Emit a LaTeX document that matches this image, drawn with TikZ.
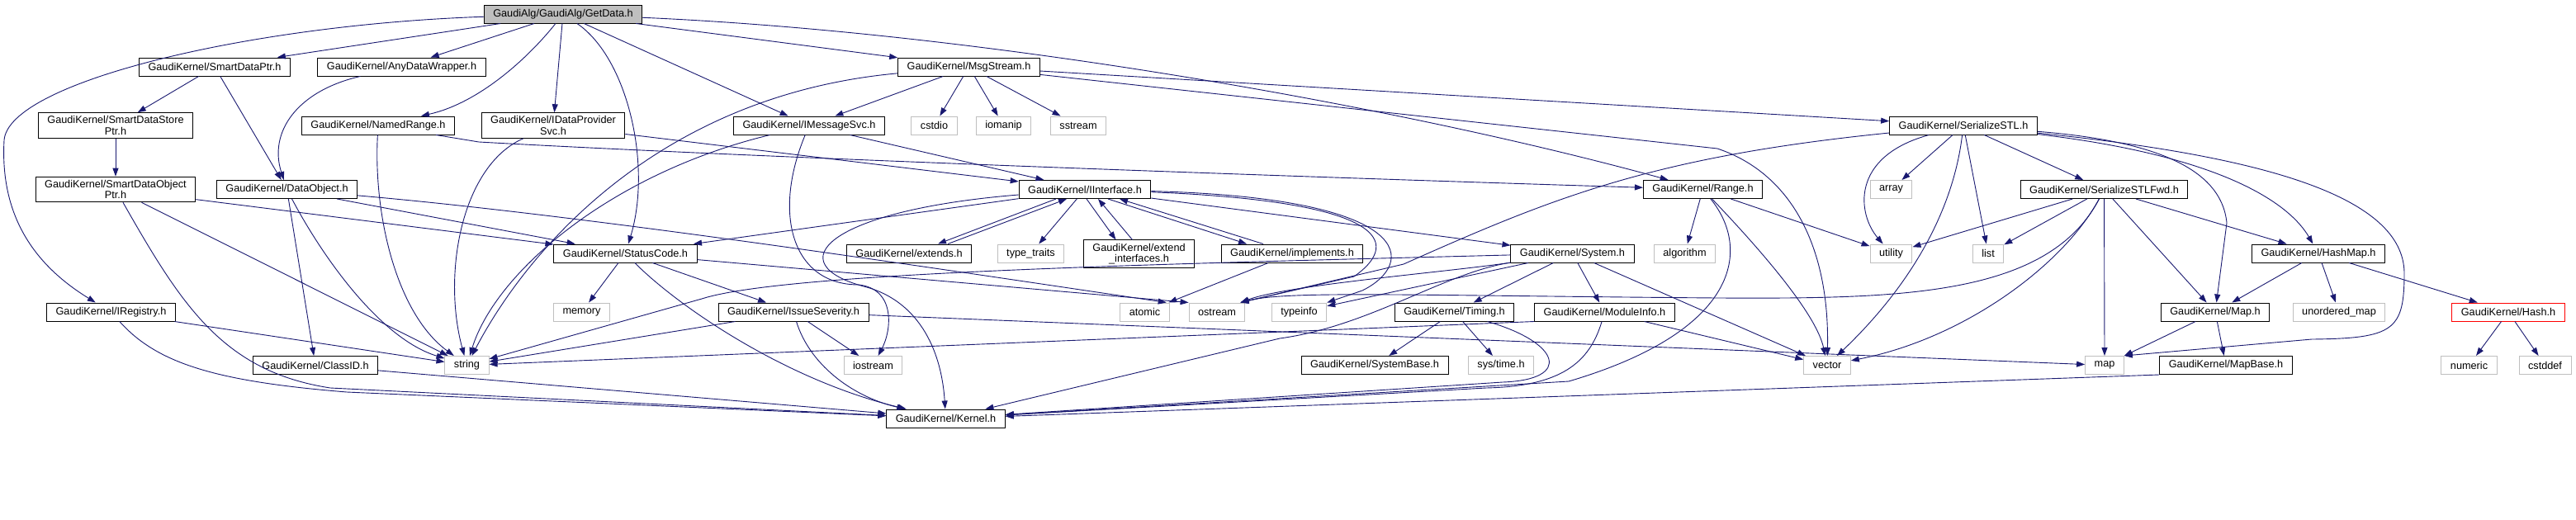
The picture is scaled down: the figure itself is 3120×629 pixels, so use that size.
\documentclass[tikz,border=0pt]{standalone}
\usepackage{fontspec}
\setmainfont{Liberation Sans}
\usepackage{xcolor}
\usepackage{tikz}
\usetikzlibrary{arrows.meta}
\definecolor{edgeblue}{HTML}{191970}
\definecolor{sysgray}{HTML}{BFBFBF}
\tikzset{hdr/.style={draw=black, line width=1pt, font=\fontsize{12.7}{13.3}\selectfont, inner xsep=11pt, inner ysep=4pt, minimum height=22pt, align=center}}
\tikzset{sys/.style={hdr, draw=sysgray}}
\tikzset{cur/.style={hdr, fill=sysgray}}
\tikzset{trunc/.style={hdr, draw=red}}
\tikzset{dep/.style={draw=edgeblue, line width=0.9pt, -{Triangle[length=10pt,width=7pt]}}}

\begin{document}
\begin{tikzpicture}[x=1pt,y=-1pt]
  \useasboundingbox (0,0) rectangle (3120,629);
  % rank 0 and 1
  \node[cur] (getdata) at (682,17) {GaudiAlg/GaudiAlg/GetData.h};
  \node[hdr] (sdptr) at (260,81) {GaudiKernel/SmartDataPtr.h};
  \node[hdr] (anywrap) at (486.5,81) {GaudiKernel/AnyDataWrapper.h};
  \node[hdr] (msgstream) at (1173.5,81) {GaudiKernel/MsgStream.h};
  % rank 2
  \node[hdr] (sdstore) at (140,152) {GaudiKernel/SmartDataStore\\Ptr.h};
  \node[hdr] (namedrange) at (458,152) {GaudiKernel/NamedRange.h};
  \node[hdr] (idps) at (670,152) {GaudiKernel/IDataProvider\\Svc.h};
  \node[hdr] (imsgsvc) at (980,152) {GaudiKernel/IMessageSvc.h};
  \node[sys] (cstdio) at (1131.5,152) {cstdio};
  \node[sys] (iomanip) at (1215.5,152) {iomanip};
  \node[sys] (sstream) at (1306,152) {sstream};
  \node[hdr] (serstl) at (2378,152) {GaudiKernel/SerializeSTL.h};
  % rank 3
  \node[hdr] (sdobj) at (140,229.5) {GaudiKernel/SmartDataObject\\Ptr.h};
  \node[hdr] (dataobj) at (347.5,229.5) {GaudiKernel/DataObject.h};
  \node[hdr] (iinterface) at (1314,229.5) {GaudiKernel/IInterface.h};
  \node[hdr] (range) at (2062.5,229.5) {GaudiKernel/Range.h};
  \node[sys] (array) at (2290.5,229.5) {array};
  \node[hdr] (serfwd) at (2548.5,229.5) {GaudiKernel/SerializeSTLFwd.h};
  % rank 4
  \node[hdr] (statuscode) at (757.5,307) {GaudiKernel/StatusCode.h};
  \node[hdr] (extends) at (1101,307) {GaudiKernel/extends.h};
  \node[sys] (typetraits) at (1248.5,307) {type\_traits};
  \node[hdr] (extintf) at (1379.5,307.5) {GaudiKernel/extend\\\_interfaces.h};
  \node[hdr] (implements) at (1565,307) {GaudiKernel/implements.h};
  \node[hdr] (system) at (1904.5,307) {GaudiKernel/System.h};
  \node[sys] (algorithm) at (2040.5,307) {algorithm};
  \node[sys] (utility) at (2290.5,307) {utility};
  \node[sys] (list) at (2408,307) {list};
  \node[hdr] (hashmap) at (2808,307) {GaudiKernel/HashMap.h};
  % rank 5
  \node[hdr] (iregistry) at (134.5,378) {GaudiKernel/IRegistry.h};
  \node[sys] (memory) at (704.5,378) {memory};
  \node[hdr] (issue) at (961,378) {GaudiKernel/IssueSeverity.h};
  \node[sys] (atomic) at (1386.5,378) {atomic};
  \node[sys] (ostream) at (1474,378) {ostream};
  \node[sys] (typeinfo) at (1573.5,378) {typeinfo};
  \node[hdr] (timing) at (1761.5,378) {GaudiKernel/Timing.h};
  \node[hdr] (moduleinfo) at (1943.5,378) {GaudiKernel/ModuleInfo.h};
  \node[hdr] (mapH) at (2683,378) {GaudiKernel/Map.h};
  \node[sys] (unordmap) at (2833,378) {unordered\_map};
  \node[trunc] (hash) at (3038,378) {GaudiKernel/Hash.h};
  % rank 6 and 7
  \node[hdr] (classid) at (382,442.5) {GaudiKernel/ClassID.h};
  \node[sys] (string) at (565.5,442.5) {string};
  \node[sys] (iostream) at (1057.5,442.5) {iostream};
  \node[hdr] (sysbase) at (1665,442.5) {GaudiKernel/SystemBase.h};
  \node[sys] (systime) at (1818,442.5) {sys/time.h};
  \node[sys] (vector) at (2213,442.5) {vector};
  \node[sys] (map) at (2549,442.5) {map};
  \node[hdr] (mapbase) at (2696,442.5) {GaudiKernel/MapBase.h};
  \node[sys] (numeric) at (2990.5,442.5) {numeric};
  \node[sys] (cstddef) at (3082.5,442.5) {cstddef};
  \node[hdr] (kernel) at (1145.5,507) {GaudiKernel/Kernel.h};
  % straight includes
  \foreach \a/\b in {getdata/sdptr, getdata/anywrap, getdata/idps, getdata/imsgsvc, getdata/msgstream,
    sdptr/sdstore, sdptr/dataobj, sdstore/sdobj, idps/iinterface, imsgsvc/iinterface,
    msgstream/imsgsvc, msgstream/cstdio, msgstream/iomanip, msgstream/sstream, msgstream/serstl,
    serstl/array, serstl/list, serstl/serfwd,
    serfwd/utility, serfwd/list, serfwd/map, serfwd/mapH, serfwd/hashmap,
    range/algorithm, range/utility, sdobj/string, sdobj/statuscode,
    dataobj/classid, dataobj/statuscode, iregistry/string, classid/kernel,
    statuscode/memory, statuscode/issue, issue/string, issue/iostream, issue/map,
    iinterface/statuscode, iinterface/typetraits, iinterface/system, implements/atomic,
    system/timing, system/moduleinfo, system/vector, system/typeinfo,
    timing/sysbase, timing/systime, moduleinfo/vector,
    mapH/mapbase, mapH/map, hashmap/mapH, hashmap/unordmap, hashmap/hash,
    hash/numeric, hash/cstddef}
    \draw[dep] (\a) -- (\b);
  % cycles round IInterface.h
  \draw[dep] ([xshift=-35pt]iinterface.south) -- ([xshift=35pt]extends.north);
  \draw[dep] ([xshift=47pt]extends.north) -- ([xshift=-22pt]iinterface.south);
  \draw[dep] ([xshift=2pt]iinterface.south) -- ([xshift=-28pt]extintf.north);
  \draw[dep] ([xshift=-8pt]extintf.north) -- ([xshift=16pt]iinterface.south);
  \draw[dep] ([xshift=28pt]iinterface.south) -- ([xshift=-55pt]implements.north);
  \draw[dep] ([xshift=-35pt]implements.north) -- ([xshift=42pt]iinterface.south);
  % curved includes
  \draw[dep] (getdata) .. controls (300,30) and (10,100) .. (5,170) .. controls (0,260) and (40,320) .. (iregistry);
  \draw[dep] (getdata) .. controls (640,70) and (580,125) .. (namedrange);
  \draw[dep] (getdata) .. controls (760,70) and (790,200) .. (statuscode);
  \draw[dep] (getdata) .. controls (1200,40) and (1700,130) .. (range);
  \draw[dep] (anywrap) .. controls (360,110) and (325,160) .. (dataobj);
  \draw[dep] (namedrange) .. controls (452,260) and (480,380) .. (string);
  \draw[dep] (namedrange) -- (580,172) .. controls (900,190) and (1500,212) .. (range);
  \draw[dep] (idps) .. controls (560,200) and (535,330) .. (string);
  \draw[dep] (imsgsvc) .. controls (740,210) and (600,330) .. (string);
  \draw[dep] (imsgsvc) .. controls (935,260) and (960,345) .. (1040,345) .. controls (1085,350) and (1080,400) .. (iostream);
  \draw[dep] (msgstream) .. controls (800,115) and (640,300) .. (string);
  \draw[dep] (msgstream) -- (2080,180) .. controls (2170,210) and (2216,300) .. (vector);
  \draw[dep] (serstl) .. controls (2240,190) and (2250,260) .. (utility);
  \draw[dep] (serstl) .. controls (2365,260) and (2310,350) .. (vector);
  \draw[dep] (serstl) .. controls (2600,170) and (2690,200) .. (2697,270) -- (mapH);
  \draw[dep] (serstl) .. controls (2700,190) and (2775,250) .. (hashmap);
  \draw[dep] (serstl) .. controls (2750,190) and (2910,240) .. (2912,330) .. controls (2912,400) and (2900,410) .. (2800,411) -- (map.north east);
  \draw[dep] (serstl) .. controls (2000,190) and (1880,240) .. (1700,320) -- ([xshift=-6pt]ostream.north east);
  \draw[dep] (serfwd) .. controls (2500,320) and (2380,410) .. (vector);
  \draw[dep] (serfwd) .. controls (2480,360) and (2300,362) .. (2080,361) .. controls (1700,358) and (1560,352) .. ([xshift=-6pt]ostream.north east);
  \draw[dep] (range) .. controls (2130,300) and (2200,380) .. (vector);
  \draw[dep] (range) .. controls (2120,300) and (2110,400) .. (1900,462) -- (kernel);
  \draw[dep] (sdobj) .. controls (220,370) and (270,450) .. (400,470) -- (kernel);
  \draw[dep] (iregistry) .. controls (190,440) and (260,462) .. (420,475) -- (kernel);
  \draw[dep] (dataobj) .. controls (390,310) and (460,410) .. (string);
  \draw[dep] (dataobj) .. controls (700,260) and (1100,320) .. ([xshift=-4pt]atomic.north east);
  \draw[dep] (statuscode) -- (ostream.north west);
  \draw[dep] (statuscode) .. controls (820,370) and (950,460) .. (kernel);
  \draw[dep] (issue) .. controls (980,440) and (1030,480) .. (kernel);
  \draw[dep] (iinterface) .. controls (1000,255) and (940,320) .. (1050,348) .. controls (1110,365) and (1140,420) .. (kernel);
  \draw[dep] (iinterface) .. controls (1720,240) and (1715,320) .. (1650,352) -- (typeinfo);
  \draw[dep] (iinterface) .. controls (1700,245) and (1690,300) .. (1640,335) -- ([xshift=-6pt]ostream.north east);
  \draw[dep] (system) .. controls (1400,320) and (950,330) .. (850,362) -- (string);
  \draw[dep] (system) .. controls (1750,330) and (1560,345) .. ([xshift=-6pt]ostream.north east);
  \draw[dep] (system) .. controls (1750,330) and (1660,395) .. (1550,410) -- (kernel);
  \draw[dep] (timing) .. controls (1890,415) and (1905,460) .. (1820,463) -- (kernel);
  \draw[dep] (moduleinfo.south west) -- (string);
  \draw[dep] (moduleinfo) .. controls (1925,440) and (1890,468) .. (1800,470) -- (kernel);
  \draw[dep] (mapbase.south west) -- (kernel);
\end{tikzpicture}
\end{document}
